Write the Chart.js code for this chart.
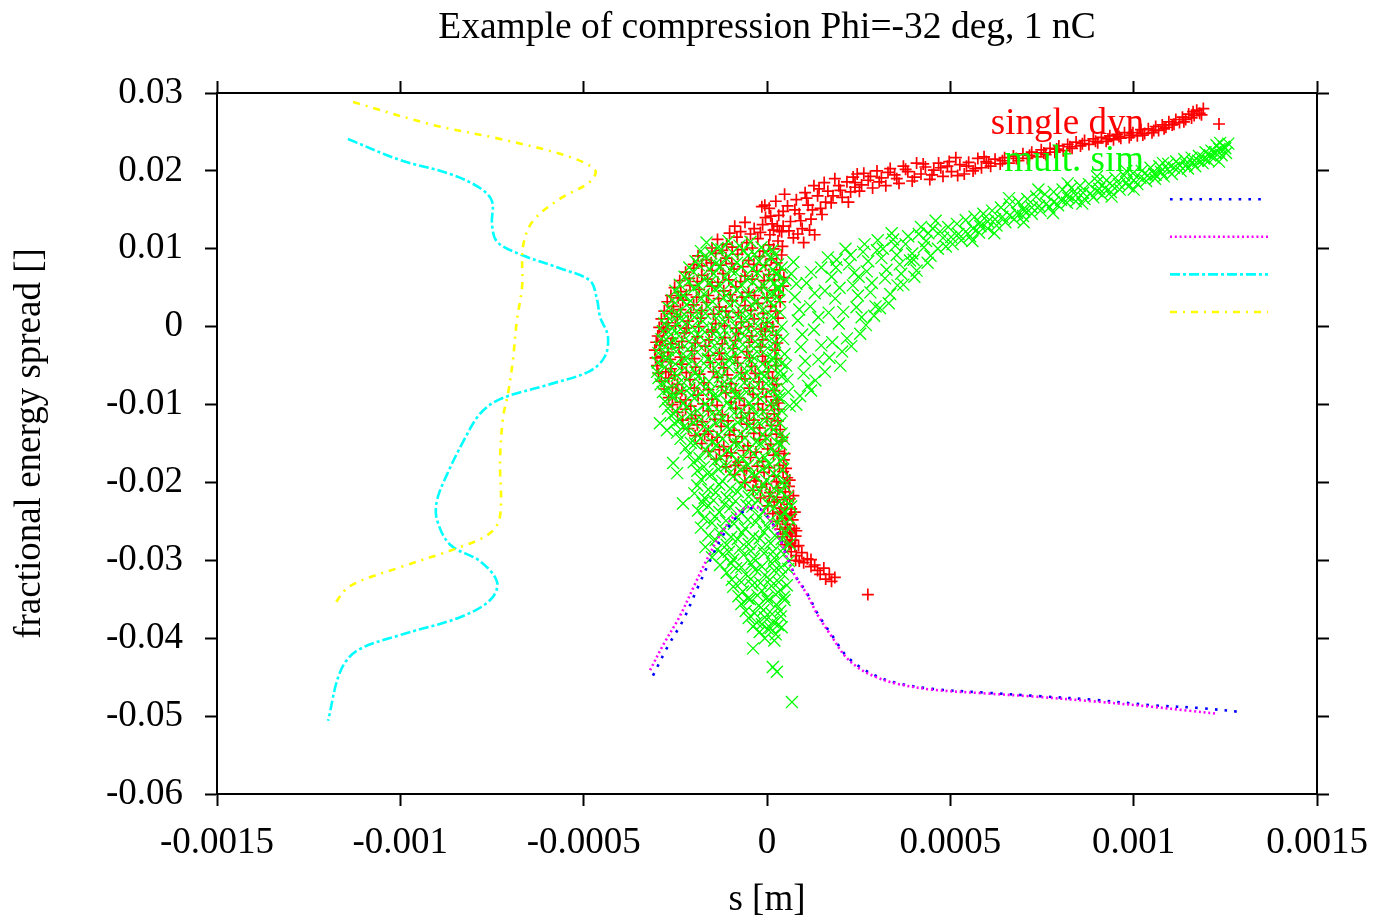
<!DOCTYPE html>
<html>
<head>
<meta charset="utf-8">
<title>Example of compression Phi=-32 deg, 1 nC</title>
<script src="https://cdn.jsdelivr.net/npm/chart.js"></script>
<style>
  html, body { margin: 0; padding: 0; background: #fff; }
  #wrap { width: 1388px; height: 923px; }
</style>
</head>
<body>
<div id="wrap"><canvas id="compression" width="1388" height="923"></canvas></div>
<script>
// values: s in micrometres, energy spread in units of 1e-3
const singleDyn = [
  [1190,28.0],[1180,27.4],[1172,27.8],[1165,27.1],[1158,26.8],[1150,27.3],[1142,26.6],[1133,26.9],[1125,26.2],[1115,26.6],
  [1105,25.9],[1096,26.3],[1088,25.6],[1078,25.9],[1068,25.2],[1060,25.7],[1050,24.9],[1040,25.4],[1030,24.8],[1020,25.3],
  [1010,24.5],[998,24.9],[988,24.3],[975,24.9],[965,24.2],[955,24.7],[945,24.0],[935,24.5],[925,23.8],[912,24.3],
  [902,23.6],[890,24.1],[878,23.4],[866,23.9],[855,23.2],[843,23.7],[832,22.9],[820,23.4],[808,22.6],[796,23.2],
  [785,22.4],[772,22.9],[760,22.1],[748,22.7],[736,21.8],[722,22.4],[710,21.6],[698,22.2],[686,21.3],[672,21.9],
  [660,21.0],[648,21.7],[636,20.9],[622,21.5],[610,20.6],[598,21.2],
  [1185,27.2],[1162,27.6],[1137,26.3],[1110,26.0],[1083,25.4],[1055,25.2],[1025,24.6],[993,24.6],[960,24.4],[930,24.1],
  [896,23.8],[860,23.5],[826,23.1],[790,22.8],[755,22.3],[716,22.0],[680,21.6],[642,21.3],[604,21.0],
  [585,20.4],[575,21.6],[562,20.0],[550,21.1],[538,19.6],[526,20.8],[515,21.7],[503,19.9],[492,20.6],[480,19.3],
  [468,21.0],[455,20.1],[444,18.9],[432,20.5],[420,19.6],[408,21.0],[396,18.7],[384,19.9],[372,20.6],[360,18.4],
  [348,19.5],[336,20.3],[324,18.1],[312,19.1],[300,20.0],[288,17.8],[276,18.8],[264,19.7],[252,17.4],[240,18.5],
  [592,21.8],[568,20.3],[544,20.6],[520,19.4],[497,21.2],[474,20.4],[450,19.5],[426,20.9],[402,19.2],[378,20.2],
  [354,19.0],[330,19.8],[306,18.6],[282,19.3],[258,18.2],[246,19.6],
  [235,19.2],[228,17.3],[218,18.6],[205,16.6],[196,18.1],[185,19.0],[175,15.9],[166,17.4],[156,18.5],[146,15.2],
  [138,16.8],[128,18.1],[120,13.8],[112,15.6],[104,17.2],[96,12.6],[88,14.5],[80,16.3],[72,11.4],[64,13.5],
  [56,15.5],[48,17.0],[40,12.2],[32,14.3],[24,16.1],[14,13.2],[6,15.2],[-4,14.0],[-14,15.4],[130,11.8],[100,10.8],
  [240,17.9],[222,16.0],[200,17.5],[180,16.8],[160,16.0],[142,17.7],[124,15.0],[108,16.5],[92,13.6],[76,15.0],
  [60,12.3],[44,14.8],[28,12.9],[10,14.2],[-6,15.6],[150,14.4],[116,12.4],[84,11.9],
  [-88,12.9],[-60,13.4],[-35,12.6],[-12,13.1],[18,12.4],[44,12.9],
  [-102,12.0],[-72,12.2],[-45,11.9],[-18,12.1],[8,11.8],[34,12.3],
  [-135,11.2],[-110,10.6],[-82,11.5],[-55,10.8],[-25,11.3],[5,10.5],[30,11.0],
  [-150,10.1],[-122,9.8],[-95,10.2],[-68,9.9],[-40,10.1],[-10,9.7],[18,10.0],[42,10.3],
  [-188,9.1],[-165,8.6],[-140,9.4],[-112,8.8],[-80,9.3],[-50,8.5],[-20,9.0],[12,8.7],[40,9.2],
  [-200,8.0],[-178,7.8],[-152,8.2],[-126,7.9],[-96,8.1],[-66,7.7],[-36,8.0],[-4,7.9],[26,8.2],
  [-222,7.0],[-200,7.5],[-178,6.6],[-150,7.2],[-120,6.8],[-90,7.4],[-60,6.5],[-28,7.1],[5,6.7],[35,7.3],
  [-238,5.9],[-212,6.2],[-190,5.8],[-162,6.1],[-134,5.7],[-104,6.0],[-72,5.8],[-40,6.1],[-8,5.9],[20,6.0],[46,6.3],
  [-252,5.0],[-235,4.5],[-210,5.3],[-185,4.8],[-150,5.2],[-118,4.6],[-85,5.1],[-50,4.4],[-15,5.0],[22,4.7],[44,5.2],
  [-262,4.0],[-242,3.7],[-220,4.1],[-192,3.8],[-160,4.0],[-132,3.6],[-100,4.1],[-68,3.8],[-34,4.0],[0,3.7],[32,4.0],
  [-272,3.2],[-255,2.6],[-230,3.4],[-200,2.8],[-165,3.1],[-130,2.5],[-95,3.3],[-60,2.7],[-25,3.0],[10,2.6],[36,3.2],
  [-280,2.0],[-260,1.7],[-236,2.2],[-208,1.8],[-178,2.1],[-146,1.6],[-112,2.0],[-78,1.8],[-44,2.1],[-10,1.7],[24,2.0],
  [-288,1.0],[-270,0.5],[-245,1.3],[-215,0.7],[-180,1.1],[-140,0.4],[-105,1.2],[-70,0.6],[-35,1.0],[0,0.5],[30,1.1],
  [-294,-0.1],[-276,-0.3],[-250,0.1],[-220,-0.2],[-186,0.0],[-150,-0.4],[-116,0.1],[-84,-0.2],[-50,0.0],[-16,-0.3],[16,0.0],
  [-298,-1.2],[-282,-0.6],[-258,-1.5],[-225,-0.8],[-190,-1.3],[-150,-0.7],[-115,-1.4],[-78,-0.9],[-42,-1.2],[-5,-0.6],[25,-1.1],
  [-302,-2.0],[-286,-1.8],[-262,-2.2],[-232,-1.9],[-196,-2.1],[-158,-1.7],[-122,-2.2],[-86,-1.8],[-48,-2.0],[-12,-1.7],[28,-2.1],
  [-306,-3.0],[-292,-2.4],[-270,-3.3],[-240,-2.7],[-205,-3.1],[-168,-2.5],[-130,-3.4],[-92,-2.8],[-55,-3.2],[-18,-2.6],[22,-3.0],
  [-304,-4.0],[-288,-3.8],[-264,-4.2],[-236,-3.9],[-198,-4.1],[-160,-3.7],[-124,-4.2],[-86,-3.9],[-48,-4.0],[-12,-3.8],[26,-4.1],
  [-300,-5.0],[-285,-4.5],[-262,-5.4],[-232,-4.8],[-195,-5.2],[-155,-4.6],[-118,-5.3],[-80,-4.7],[-42,-5.1],[-5,-4.5],[24,-5.0],
  [-296,-6.0],[-276,-5.8],[-252,-6.2],[-220,-5.9],[-184,-6.1],[-146,-5.8],[-108,-6.2],[-70,-5.9],[-32,-6.0],[4,-5.8],
  [-288,-7.0],[-268,-6.6],[-244,-7.4],[-210,-6.8],[-172,-7.2],[-135,-6.5],[-98,-7.3],[-60,-6.7],[-22,-7.1],[15,-6.6],[26,-7.4],
  [-280,-8.0],[-258,-7.8],[-232,-8.2],[-198,-7.9],[-160,-8.1],[-124,-7.7],[-86,-8.2],[-48,-7.9],[-12,-8.0],[20,-8.2],
  [-268,-9.1],[-248,-8.6],[-222,-9.4],[-188,-8.8],[-150,-9.3],[-112,-8.5],[-75,-9.2],[-38,-8.7],[-2,-9.0],[25,-9.4],
  [-258,-10.0],[-236,-9.7],[-208,-10.2],[-174,-9.9],[-136,-10.1],[-98,-9.7],[-62,-10.1],[-24,-9.9],[12,-10.1],[30,-9.8],
  [-244,-11.0],[-222,-10.6],[-195,-11.4],[-160,-10.8],[-122,-11.3],[-85,-10.5],[-48,-11.1],[-12,-10.7],[20,-11.2],[32,-10.6],
  [-230,-12.0],[-206,-11.8],[-176,-12.2],[-142,-11.9],[-106,-12.1],[-70,-11.7],[-36,-12.0],[0,-11.8],[30,-12.1],
  [-214,-13.1],[-190,-12.6],[-160,-13.4],[-125,-12.8],[-90,-13.3],[-55,-12.5],[-20,-13.0],[12,-12.7],[36,-13.2],
  [-196,-14.0],[-170,-13.8],[-136,-14.2],[-102,-13.9],[-68,-14.1],[-36,-13.7],[-4,-14.0],[26,-13.8],[42,-14.2],
  [-178,-15.0],[-150,-14.6],[-118,-15.4],[-85,-14.8],[-52,-15.3],[-20,-14.5],[10,-15.1],[40,-14.7],
  [-160,-16.0],[-130,-15.8],[-98,-16.2],[-64,-15.9],[-30,-16.1],[2,-15.7],[32,-16.0],[48,-16.3],
  [-138,-17.0],[-110,-16.6],[-78,-17.4],[-45,-16.8],[-12,-17.3],[18,-16.5],[46,-17.1],
  [-112,-18.0],[-86,-17.8],[-56,-18.2],[-26,-17.9],[6,-18.1],[34,-17.8],[52,-18.2],
  [-88,-19.0],[-62,-18.5],[-35,-19.3],[-8,-18.7],[20,-19.2],[44,-18.6],[55,-19.4],
  [-60,-20.0],[-30,-19.8],[-2,-20.2],[26,-19.9],[48,-20.1],[62,-19.7],
  [-38,-21.0],[-15,-20.6],[8,-21.3],[30,-20.7],[50,-21.2],[60,-20.5],
  [-18,-22.0],[6,-21.8],[28,-22.2],[46,-21.9],[62,-22.1],[72,-21.7],
  [2,-23.0],[20,-22.5],[38,-23.3],[55,-22.8],[66,-23.4],[48,-24.0],
  [16,-24.0],[34,-23.8],[52,-24.2],[66,-24.1],[76,-23.8],
  [28,-25.0],[42,-24.6],[56,-25.4],[70,-24.8],[62,-26.0],
  [36,-26.0],[50,-25.8],[64,-26.4],[74,-25.9],[80,-26.2],
  [42,-27.0],[55,-26.6],[68,-27.4],[78,-26.9],[60,-28.0],
  [50,-28.0],[64,-27.8],[76,-28.2],[86,-28.1],
  [66,-28.9],[80,-29.4],[95,-29.0],[110,-29.8],[88,-30.1],
  [78,-30.0],[100,-30.3],[120,-29.9],[130,-30.6],
  [120,-30.8],[138,-31.3],[155,-31.0],[170,-31.8],[185,-32.2],[160,-32.4],[145,-31.8],[176,-32.7],
  [275,-34.4]
];

const multSim = [
  [1258,23.5],[1252,22.3],[1246,23.1],[1240,22.0],[1234,22.8],[1226,23.3],[1220,21.7],[1212,22.6],[1204,21.3],[1196,22.4],
  [1188,21.0],[1178,21.9],[1168,20.6],[1158,21.7],[1148,20.3],[1138,21.5],[1128,20.0],[1116,21.2],[1104,19.6],[1094,20.9],
  [1082,19.3],[1070,20.6],[1058,19.0],[1046,20.4],[1034,18.7],[1022,20.0],[1010,18.3],[998,19.7],[986,18.0],[974,19.4],
  [962,17.6],[950,19.1],[938,17.3],[926,18.8],[914,16.9],[902,18.6],[890,16.6],[878,18.3],[866,16.4],[854,18.1],
  [842,16.1],[830,17.8],[818,15.9],[806,17.6],[794,15.6],[782,17.3],[770,15.3],[758,17.0],[746,14.9],[734,16.7],
  [722,14.5],[710,16.4],[698,14.2],[686,16.0],[674,13.8],[662,15.7],[650,13.4],[638,15.3],[626,13.0],[614,14.9],
  [602,12.6],[590,14.5],[578,12.1],[566,14.1],[554,11.6],[542,13.7],[530,11.1],[518,13.2],[506,10.6],[494,12.8],
  [906,17.7],[1060,19.5],[820,16.9],[700,15.1],[580,13.3],
  [1250,22.9],[1236,23.6],[1222,22.4],[1208,22.0],[1192,21.6],[1176,21.3],[1160,21.1],[1144,20.8],[1126,20.7],[1110,20.4],
  [1092,20.2],[1074,19.9],[1056,19.6],[1038,19.4],[1018,19.1],[1000,18.8],[980,18.5],[960,18.3],[942,18.1],[922,17.8],
  [900,17.4],[882,17.1],[862,17.2],[842,16.9],[822,16.5],[802,16.3],[782,16.0],[762,15.8],[742,15.5],[722,15.3],
  [702,14.8],[682,14.6],[662,14.3],[642,14.1],[622,13.8],[602,13.5],[582,12.9],[562,12.6],[542,12.2],[522,11.9],
  [502,11.5],[940,16.7],[1000,17.6],[860,15.8],[780,14.6],[700,13.4],[620,12.0],[560,11.0],[980,20.0],[1080,21.0],
  [900,19.3],[820,18.4],[740,17.6],[660,16.5],
  [488,10.3],[472,12.2],[460,13.6],[446,9.1],[434,11.0],[420,12.8],[408,7.2],[396,9.4],[385,11.6],[372,5.4],
  [362,8.0],[350,10.4],[340,12.0],[332,3.0],[322,6.2],[312,8.8],[302,11.1],[292,1.4],[282,4.4],[272,7.1],
  [262,9.6],[254,-0.9],[244,2.5],[234,5.3],[224,8.0],[214,10.0],[205,-3.2],[196,0.4],[186,3.6],[176,6.4],
  [166,8.9],[158,-5.8],[148,-2.4],[140,1.2],[130,4.3],[120,7.0],[112,-7.6],[104,-4.4],[96,-1.0],[88,2.2],
  [80,5.5],[72,8.3],[62,-10.2],[56,-6.8],[48,-3.5],[40,0.0],[34,3.4],[26,6.7],[90,-8.9],[132,-6.9],
  [170,-4.0],[230,-2.5],[270,0.2],[308,2.4],[356,5.3],[400,8.6],[440,12.0],[190,8.6],[250,6.4],[300,9.8],
  [480,11.4],[466,10.0],[452,12.6],[438,8.2],[428,10.2],[414,11.9],[402,6.4],[390,8.5],[378,10.6],[366,6.8],
  [354,9.2],[344,11.2],[336,4.2],[326,7.3],[316,10.0],[296,2.6],[286,5.6],[276,8.4],[266,10.6],[258,1.2],
  [248,4.0],[238,6.9],[228,9.2],[218,-1.5],[208,1.9],[198,5.0],[188,7.6],[178,-2.0],[168,1.8],[158,4.6],
  [148,7.6],[140,-4.2],[128,-0.4],[118,2.6],[108,5.6],[100,-6.0],[92,-2.6],[84,0.8],[76,3.8],[66,6.8],
  [58,-8.4],[52,-5.0],[44,-1.6],[36,1.8],[30,5.0],[120,-8.2],[80,-10.0],[200,-5.0],
  [-165,10.8],[-135,10.1],[-105,11.0],[-75,10.4],[-45,10.9],[-15,10.2],[15,9.8],
  [-180,9.7],[-152,9.4],[-124,9.9],[-94,9.5],[-64,9.8],[-34,9.3],[-4,9.6],[22,9.2],
  [-195,8.4],[-170,9.0],[-140,8.1],[-112,8.8],[-82,8.2],[-52,9.1],[-22,8.4],[8,8.9],[30,8.0],
  [-212,7.6],[-186,7.9],[-158,7.4],[-128,7.8],[-100,7.3],[-70,7.7],[-40,7.4],[-10,7.8],[16,7.3],[40,7.6],
  [-225,6.4],[-200,7.0],[-172,6.1],[-145,6.8],[-115,6.3],[-86,7.0],[-56,6.1],[-26,6.9],[4,6.2],[28,6.8],[50,6.0],
  [-238,5.4],[-214,5.8],[-186,5.3],[-156,5.7],[-128,5.2],[-98,5.6],[-68,5.3],[-38,5.7],[-8,5.2],[20,5.6],[42,5.3],
  [-250,4.6],[-228,4.0],[-200,4.9],[-172,4.2],[-142,4.8],[-112,4.0],[-82,4.7],[-52,4.1],[-22,4.9],[8,4.2],[30,4.8],
  [-258,3.4],[-236,3.7],[-208,3.3],[-178,3.6],[-148,3.2],[-118,3.7],[-88,3.3],[-58,3.6],[-28,3.2],[2,3.5],[26,3.8],
  [-268,2.4],[-246,1.8],[-220,2.8],[-192,2.0],[-162,2.6],[-132,1.9],[-102,2.7],[-72,2.0],[-42,2.8],[-12,2.1],[18,2.6],
  [-274,1.4],[-252,1.0],[-226,1.6],[-198,1.2],[-168,1.7],[-138,1.1],[-108,1.5],[-78,1.2],[-48,1.6],[-18,1.0],[12,1.4],
  [-280,0.4],[-258,-0.2],[-232,0.8],[-204,0.0],[-175,0.7],[-145,-0.1],[-115,0.6],[-85,0.0],[-55,0.8],[-25,0.1],[5,0.6],
  [-284,-0.6],[-262,-1.0],[-236,-0.3],[-206,-0.8],[-176,-0.4],[-146,-0.9],[-116,-0.5],[-86,-1.0],[-56,-0.3],[-26,-0.8],[4,-0.4],[28,-0.9],
  [-288,-1.6],[-265,-2.1],[-240,-1.2],[-212,-1.9],[-182,-1.3],[-152,-2.0],[-122,-1.4],[-92,-2.1],[-62,-1.2],[-32,-1.9],[-2,-1.4],[22,-2.0],
  [-292,-2.6],[-270,-3.0],[-244,-2.3],[-216,-2.9],[-186,-2.4],[-156,-3.0],[-126,-2.5],[-96,-2.9],[-66,-2.3],[-36,-2.8],[-6,-2.4],[20,-3.0],
  [-296,-3.4],[-272,-4.0],[-248,-3.2],[-220,-3.9],[-190,-3.3],[-160,-4.1],[-130,-3.4],[-100,-4.0],[-70,-3.2],[-40,-3.8],[-10,-3.3],[16,-4.0],
  [-298,-4.6],[-276,-4.2],[-250,-4.8],[-222,-4.3],[-192,-4.9],[-162,-4.2],[-132,-4.8],[-102,-4.3],[-72,-4.9],[-42,-4.4],[-12,-4.8],[14,-4.3],[40,-4.7],
  [-300,-5.8],[-278,-5.2],[-252,-6.0],[-224,-5.3],[-194,-5.9],[-164,-5.1],[-134,-5.8],[-104,-5.2],[-74,-6.0],[-44,-5.4],[-14,-5.9],[12,-5.2],[36,-5.7],
  [-296,-6.6],[-274,-7.0],[-246,-6.3],[-218,-6.8],[-188,-6.4],[-158,-7.0],[-128,-6.5],[-98,-6.9],[-68,-6.3],[-38,-6.8],[-8,-6.4],[18,-6.9],[40,-6.4],
  [-290,-7.4],[-268,-8.0],[-240,-7.2],[-212,-7.9],[-182,-7.3],[-152,-8.1],[-122,-7.4],[-92,-8.0],[-62,-7.2],[-32,-7.8],[-2,-7.3],[24,-8.0],
  [-284,-8.4],[-262,-8.9],[-234,-8.3],[-206,-8.8],[-176,-8.4],[-146,-8.9],[-116,-8.3],[-86,-8.8],[-56,-8.4],[-26,-8.9],[4,-8.4],[30,-8.8],
  [-278,-9.6],[-255,-9.0],[-228,-9.8],[-198,-9.2],[-168,-9.9],[-138,-9.1],[-108,-9.7],[-78,-9.0],[-48,-9.8],[-18,-9.3],[10,-9.9],[34,-9.2],
  [-270,-10.5],[-248,-10.9],[-220,-10.3],[-190,-10.8],[-160,-10.4],[-130,-10.9],[-100,-10.3],[-70,-10.8],[-40,-10.4],[-10,-10.9],[18,-10.3],[40,-10.8],
  [-262,-11.4],[-238,-12.0],[-210,-11.3],[-180,-11.9],[-150,-11.2],[-120,-11.8],[-90,-11.1],[-60,-11.7],[-30,-11.2],[0,-11.9],[28,-11.4],
  [-292,-12.4],[-273,-13.3],
  [-252,-12.4],[-228,-12.9],[-200,-12.3],[-170,-12.8],[-140,-12.4],[-110,-12.9],[-80,-12.3],[-50,-12.8],[-20,-12.4],[10,-12.9],[36,-12.4],
  [-245,-13.6],[-220,-13.0],[-192,-13.8],[-162,-13.2],[-132,-13.9],[-102,-13.1],[-72,-13.7],[-42,-13.0],[-12,-13.8],[18,-13.2],[40,-13.7],
  [-236,-14.4],[-208,-14.9],[-180,-14.3],[-150,-14.8],[-120,-14.4],[-90,-14.9],[-60,-14.3],[-30,-14.8],[0,-14.4],[28,-14.9],[46,-14.4],
  [-222,-15.6],[-196,-15.0],[-168,-15.8],[-138,-15.2],[-108,-15.9],[-78,-15.1],[-48,-15.7],[-18,-15.0],[12,-15.6],[38,-15.1],
  [-212,-16.4],[-184,-16.9],[-156,-16.3],[-126,-16.8],[-96,-16.4],[-66,-16.9],[-36,-16.3],[-6,-16.8],[24,-16.4],[44,-16.9],
  [-200,-17.4],[-172,-18.0],[-142,-17.3],[-112,-17.9],[-82,-17.2],[-52,-17.8],[-22,-17.1],[8,-17.7],[36,-17.2],
  [-245,-18.8],[-229,-22.7],[-256,-17.5],
  [-190,-18.5],[-162,-18.9],[-132,-18.3],[-102,-18.8],[-72,-18.4],[-42,-18.9],[-12,-18.3],[18,-18.8],[42,-18.4],
  [-180,-19.6],[-152,-19.0],[-122,-19.8],[-92,-19.2],[-62,-19.9],[-32,-19.1],[-2,-19.7],[26,-19.2],[48,-19.8],
  [-190,-20.4],[-160,-20.9],[-130,-20.3],[-100,-20.8],[-70,-20.4],[-40,-20.9],[-10,-20.3],[20,-20.8],[48,-20.4],
  [-198,-21.4],[-170,-22.0],[-140,-21.3],[-110,-21.9],[-80,-21.2],[-50,-21.8],[-20,-21.1],[10,-21.7],[38,-21.2],[56,-21.9],
  [-176,-22.6],[-146,-22.3],[-116,-22.8],[-86,-22.4],[-56,-22.9],[-26,-22.3],[4,-22.8],[34,-22.4],[60,-22.7],
  [-188,-23.6],[-160,-23.0],[-130,-23.8],[-100,-23.2],[-70,-23.9],[-40,-23.1],[-10,-23.7],[20,-23.2],[48,-23.8],[66,-23.1],
  [-172,-24.6],[-142,-24.4],[-112,-24.9],[-82,-24.5],[-52,-24.8],[-22,-24.4],[8,-24.9],[38,-24.5],[62,-24.7],
  [-180,-25.8],[-150,-25.2],[-120,-26.0],[-90,-25.3],[-60,-25.9],[-30,-25.1],[0,-25.7],[30,-25.2],[58,-25.8],
  [-160,-26.8],[-128,-26.6],[-98,-27.0],[-68,-26.5],[-38,-26.9],[-8,-26.4],[22,-26.8],[50,-26.5],
  [-168,-28.3],[-140,-27.4],[-110,-28.0],[-80,-27.3],[-50,-27.9],[-20,-27.2],[10,-27.8],[40,-27.3],[62,-27.9],
  [-136,-28.6],[-104,-28.9],[-74,-28.5],[-44,-28.8],[-14,-28.4],[16,-28.9],[44,-28.5],
  [-150,-29.6],[-120,-29.2],[-92,-29.9],[-64,-29.3],[-36,-29.8],[-8,-29.1],[20,-29.7],[46,-29.2],[60,-30.1],
  [-128,-30.6],[-98,-30.4],[-70,-30.9],[-42,-30.5],[-14,-30.8],[14,-30.4],[38,-30.9],
  [-110,-31.6],[-84,-31.0],[-58,-31.8],[-32,-31.2],[-6,-31.9],[20,-31.3],[44,-31.8],[58,-31.1],
  [-96,-32.5],[-70,-32.8],[-44,-32.4],[-18,-32.9],[8,-32.5],[32,-32.8],
  [-92,-33.4],[-66,-34.0],[-40,-33.2],[-14,-33.9],[12,-33.3],[36,-33.8],[54,-33.2],
  [-78,-34.6],[-52,-34.9],[-26,-34.5],[0,-34.8],[24,-34.4],[46,-34.7],
  [-70,-35.6],[-46,-35.0],[-22,-35.8],[2,-35.2],[26,-35.7],[48,-35.1],
  [-58,-36.5],[-34,-36.8],[-10,-36.4],[14,-36.9],[36,-36.5],
  [-50,-37.4],[-28,-38.0],[-6,-37.3],[16,-37.9],[38,-37.2],
  [-38,-38.5],[-14,-38.2],[10,-38.7],[30,-38.3],
  [-20,-39.2],[2,-38.8],[24,-39.5],[40,-38.6],
  [-6,-40.0],[20,-40.3],
  [-38,-41.3],[16,-43.7],[27,-44.3],[68,-48.2]
];

const curveBlue = [
  [-311,-44.8],[-270,-41.0],[-229,-37.7],[-190,-33.6],[-155,-30.0],[-120,-26.8],[-82,-24.4],[-50,-23.4],[-20,-23.4],
  [8,-24.8],[30,-26.6],[55,-29.6],[80,-32.2],[109,-34.2],[140,-37.0],[180,-39.8],[215,-42.2],[254,-43.7],[300,-44.9],
  [350,-45.7],[450,-46.5],[600,-47.0],[730,-47.4],[890,-47.9],[1050,-48.6],[1190,-49.0],[1298,-49.5]
];
const curveMagenta = [
  [-319,-44.1],[-280,-40.6],[-238,-37.2],[-198,-33.2],[-162,-29.7],[-126,-26.6],[-88,-24.2],[-55,-23.2],[-22,-23.3],
  [6,-24.7],[28,-26.5],[53,-29.5],[78,-32.1],[107,-34.2],[138,-37.0],[178,-39.9],[213,-42.3],[252,-43.9],[298,-45.0],
  [350,-45.8],[450,-46.6],[600,-47.1],[730,-47.5],[890,-48.1],[1050,-48.8],[1150,-49.3],[1230,-49.7]
];
const curveCyan = [
  [-1143,24.1],[-1001,21.4],[-864,19.6],[-783,17.8],[-750,16.1],[-750,13.1],[-736,10.9],[-674,9.3],[-565,7.5],[-483,5.9],
  [-464,3.6],[-455,1.2],[-434,-1.2],[-442,-3.8],[-483,-5.7],[-600,-7.5],[-728,-9.3],[-783,-11.2],[-829,-14.8],[-873,-19.0],
  [-900,-22.3],[-900,-24.8],[-864,-28.0],[-783,-30.1],[-736,-32.8],[-755,-35.1],[-837,-37.3],[-1001,-39.6],[-1118,-41.6],
  [-1164,-44.3],[-1197,-50.6]
];
const curveYellow = [
  [-1129,28.85],[-911,25.9],[-728,24.1],[-545,21.9],[-469,20.1],[-483,18.6],[-565,16.4],[-638,13.6],[-665,10.4],[-668,5.1],
  [-682,0.86],[-693,-4.3],[-706,-8.5],[-720,-11.7],[-728,-17.0],[-728,-24.3],[-755,-26.5],[-837,-28.3],[-1001,-30.9],
  [-1137,-33.3],[-1184,-35.9]
];

const xTicks = [-0.0015, -0.001, -0.0005, 0, 0.0005, 0.001, 0.0015];
const xTickLabels = ['-0.0015', '-0.001', '-0.0005', '0', '0.0005', '0.001', '0.0015'];
const yTicks = [0.03, 0.02, 0.01, 0, -0.01, -0.02, -0.03, -0.04, -0.05, -0.06];
const yTickLabels = ['0.03', '0.02', '0.01', '0', '-0.01', '-0.02', '-0.03', '-0.04', '-0.05', '-0.06'];

const toPoints = arr => arr.map(p => ({ x: p[0] * 1e-6, y: p[1] * 1e-3 }));

Chart.defaults.font.family = '"Liberation Serif", "Times New Roman", serif';
Chart.defaults.font.size = 37;
Chart.defaults.color = '#000';

// gnuplot style key: coloured text, sample to the right, no box
const gnuKey = {
  id: 'gnuKey',
  afterDatasetsDraw(chart) {
    const ctx = chart.ctx;
    const textRight = 1144, x0 = 1170, x1 = 1268;
    let y = 124;
    chart.data.datasets.forEach(ds => {
      ctx.save();
      if (ds.label) {
        ctx.font = '37px "Liberation Serif", serif';
        ctx.fillStyle = ds.borderColor;
        ctx.textAlign = 'right';
        ctx.textBaseline = 'middle';
        ctx.fillText(ds.label, textRight, y);
      }
      ctx.strokeStyle = ds.borderColor;
      ctx.fillStyle = ds.borderColor;
      if (ds.showLine) {
        ctx.lineWidth = ds.borderWidth;
        ctx.setLineDash(ds.borderDash || []);
        ctx.beginPath();
        ctx.moveTo(x0, y);
        ctx.lineTo(x1, y);
        ctx.stroke();
      } else {
        ctx.lineWidth = ds.borderWidth;
        Chart.helpers.drawPoint(ctx, {
          pointStyle: ds.pointStyle, radius: ds.pointRadius, rotation: 0, borderWidth: ds.borderWidth
        }, (x0 + x1) / 2, y);
      }
      ctx.restore();
      y += 37.6;
    });
  }
};

const tickGrid = { drawOnChartArea: false, tickLength: 12, tickWidth: 2, tickColor: '#000' };
const frame = { color: '#000', width: 2 };

new Chart(document.getElementById('compression'), {
  type: 'scatter',
  data: {
    datasets: [{
      label: 'single dyn',
      data: toPoints(singleDyn),
      pointStyle: 'cross',
      pointRadius: 6,
      borderWidth: 1.7,
      borderColor: '#ff0000',
      backgroundColor: '#ff0000',
      order: 6
    }, {
      label: 'mult. sim',
      data: toPoints(multSim),
      pointStyle: 'crossRot',
      pointRadius: 8.5,
      borderWidth: 1.3,
      borderColor: '#00ff00',
      backgroundColor: '#00ff00',
      order: 5
    }, {
      label: '',
      data: toPoints(curveBlue),
      showLine: true,
      pointRadius: 0,
      borderColor: '#0000ff',
      borderWidth: 2.6,
      borderDash: [2.6, 7.2],
      tension: 0.35,
      order: 4
    }, {
      label: '',
      data: toPoints(curveMagenta),
      showLine: true,
      pointRadius: 0,
      borderColor: '#ff00ff',
      borderWidth: 2.6,
      borderDash: [2, 2.8],
      tension: 0.35,
      order: 3
    }, {
      label: '',
      data: toPoints(curveCyan),
      showLine: true,
      pointRadius: 0,
      borderColor: '#00ffff',
      borderWidth: 2.6,
      borderDash: [10, 3, 3, 3],
      tension: 0.35,
      order: 2
    }, {
      label: '',
      data: toPoints(curveYellow),
      showLine: true,
      pointRadius: 0,
      borderColor: '#ffff00',
      borderWidth: 2.6,
      borderDash: [7, 6, 2, 6],
      tension: 0.35,
      order: 1
    }]
  },
  options: {
    responsive: false,
    animation: false,
    devicePixelRatio: 1,
    events: [],
    layout: { padding: 0 },
    plugins: {
      legend: { display: false },
      tooltip: { enabled: false },
      title: {
        display: true,
        fullSize: false,
        text: 'Example of compression Phi=-32 deg, 1 nC',
        color: '#000',
        font: { size: 37.5, weight: 'normal' },
        padding: { top: 6, bottom: 0 }
      }
    },
    scales: {
      x: {
        type: 'linear',
        position: 'bottom',
        min: -0.0015,
        max: 0.0015,
        afterBuildTicks: s => { s.ticks = xTicks.map(v => ({ value: v })); },
        afterFit: s => { s.height = 129; },
        ticks: { callback: (v, i) => xTickLabels[i], padding: 15, maxRotation: 0, autoSkip: false },
        grid: tickGrid,
        border: frame,
        title: { display: true, text: 's [m]', padding: { top: 0, bottom: 1 } }
      },
      x2: {
        type: 'linear',
        position: 'top',
        min: -0.0015,
        max: 0.0015,
        afterBuildTicks: s => { s.ticks = xTicks.map(v => ({ value: v })); },
        afterFit: s => { s.height = 42; },
        ticks: { display: false },
        grid: tickGrid,
        border: frame
      },
      y: {
        type: 'linear',
        position: 'left',
        min: -0.06,
        max: 0.03,
        afterBuildTicks: s => { s.ticks = yTicks.map(v => ({ value: v })); },
        afterFit: s => { s.width = 217; },
        ticks: { callback: (v, i) => yTickLabels[i], padding: 22, autoSkip: false },
        grid: tickGrid,
        border: frame,
        title: { display: true, text: 'fractional energy spread []', padding: { top: 8, bottom: 0 } }
      },
      y2: {
        type: 'linear',
        position: 'right',
        min: -0.06,
        max: 0.03,
        afterBuildTicks: s => { s.ticks = yTicks.map(v => ({ value: v })); },
        afterFit: s => { s.width = 71; },
        ticks: { display: false },
        grid: tickGrid,
        border: frame
      }
    }
  },
  plugins: [gnuKey]
});
</script>
</body>
</html>
